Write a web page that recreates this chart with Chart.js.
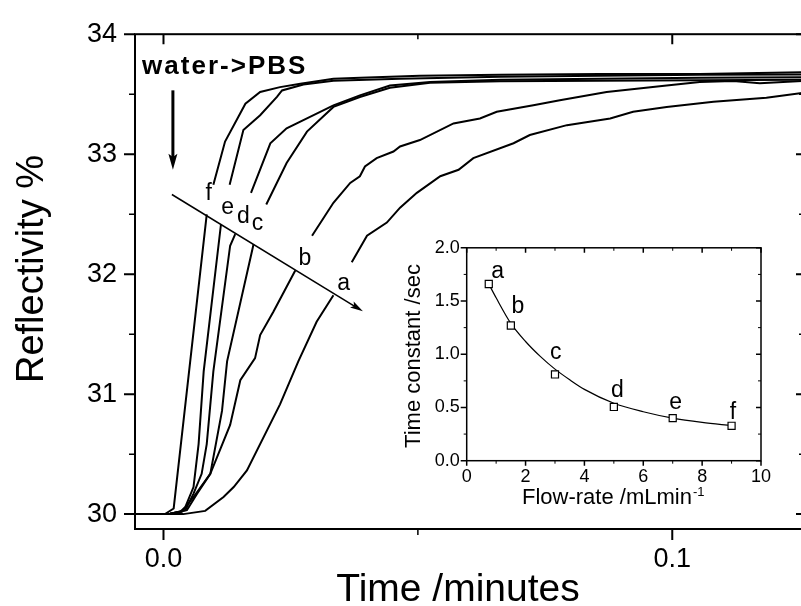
<!DOCTYPE html>
<html>
<head>
<meta charset="utf-8">
<title>Reflectivity vs time</title>
<script src="https://cdn.jsdelivr.net/npm/chart.js@4/dist/chart.umd.min.js"></script>
<style>
  html, body { margin: 0; padding: 0; background: #fff; overflow: hidden; }
  #wrap  { position: relative; width: 801px; height: 606px; overflow: hidden; }
  #main  { position: absolute; left: 0; top: 0; }
  #inset { position: absolute; left: 380px; top: 230px; }
</style>
</head>
<body>
<div id="wrap">
  <canvas id="main" width="806" height="606"></canvas>
  <canvas id="inset" width="400" height="290"></canvas>
</div>
<script>
const FONT = "'Liberation Sans', Arial, Helvetica, sans-serif";

// ─── curvas de reflectividad: [tiempo (min), R (%)] ; null = hueco junto a la etiqueta
const curveA = [
  [-0.0056, 30.0], [0.0013, 30.0], [0.0039, 30.0], [0.0082, 30.027], [0.0118, 30.143],
  [0.0138, 30.226], [0.0164, 30.364], [0.0229, 30.915], [0.0265, 31.273], [0.0301, 31.603],
  [0.0334, 31.824], [0.0350, null],
  [0.0370, 32.099], [0.0400, 32.32], [0.0439, 32.43], [0.0465, 32.554], [0.0498, 32.678],
  [0.0544, 32.816], [0.0580, 32.87], [0.0609, 32.967], [0.0688, 33.091], [0.0720, 33.16],
  [0.0793, 33.242], [0.0878, 33.298], [0.0923, 33.353], [0.0989, 33.394], [0.1081, 33.436],
  [0.1185, 33.471], [0.1255, 33.51]
];
const curveB = [
  [-0.0056, 30.0], [0.0013, 30.004], [0.0036, 30.019], [0.0059, 30.143], [0.0092, 30.336],
  [0.0131, 30.744], [0.0151, 31.116], [0.0180, 31.30], [0.0190, 31.493], [0.0216, 31.686],
  [0.0259, 32.031], [0.0275, null],
  [0.0292, 32.32], [0.0334, 32.595], [0.0367, 32.76], [0.0386, 32.816], [0.0396, 32.898],
  [0.0419, 32.967], [0.0452, 33.022], [0.0465, 33.064], [0.0504, 33.118], [0.0570, 33.256],
  [0.0622, 33.298], [0.0655, 33.353], [0.0727, 33.407], [0.0779, 33.449], [0.0871, 33.518],
  [0.0989, 33.573], [0.1054, 33.601], [0.1120, 33.609], [0.1172, 33.592], [0.1255, 33.609]
];
const curveC = [
  [-0.0056, 30.0], [0.0013, 30.004], [0.0046, 30.033], [0.0066, 30.171], [0.0092, 30.336],
  [0.0115, 30.86], [0.0125, 31.273], [0.0177, 32.25], [0.0190, null],
  [0.0202, 32.581], [0.0242, 32.926], [0.0282, 33.188], [0.0334, 33.394], [0.0386, 33.477],
  [0.0445, 33.554], [0.0524, 33.595], [0.0662, 33.607], [0.0858, 33.612], [0.1054, 33.616],
  [0.1255, 33.62]
];
const curveD = [
  [-0.0056, 30.0], [0.0013, 30.004], [0.0043, 30.033], [0.0059, 30.171], [0.0075, 30.336],
  [0.0085, 30.584], [0.0098, 31.19], [0.0131, 32.237], [0.0141, 32.333], [0.0155, null],
  [0.0172, 32.678], [0.0210, 33.091], [0.0242, 33.215], [0.0282, 33.298], [0.0334, 33.407],
  [0.0386, 33.49], [0.0445, 33.572], [0.0524, 33.601], [0.0662, 33.62], [0.0858, 33.628],
  [0.1054, 33.636], [0.1255, 33.642]
];
const curveE = [
  [-0.0056, 30.0], [0.0013, 30.004], [0.0033, 30.019], [0.0043, 30.06], [0.0059, 30.226],
  [0.0069, 30.584], [0.0079, 31.19], [0.0113, 32.416], [0.0120, null],
  [0.0130, 32.746], [0.0157, 33.201], [0.0190, 33.325], [0.0223, 33.477], [0.0233, 33.531],
  [0.0275, 33.581], [0.0334, 33.612], [0.0465, 33.628], [0.0662, 33.645], [0.0858, 33.653],
  [0.1054, 33.661], [0.1255, 33.664]
];
const curveF = [
  [-0.0056, 30.0], [0.0003, 30.0], [0.0020, 30.047], [0.0085, 32.498], [0.0090, null],
  [0.0098, 32.746], [0.0121, 33.105], [0.0161, 33.421], [0.0190, 33.518], [0.0229, 33.559],
  [0.0269, 33.587], [0.0334, 33.628], [0.0387, 33.636], [0.0504, 33.653], [0.0662, 33.661],
  [0.0858, 33.669], [0.1054, 33.669], [0.1255, 33.683]
];
const curves      = [curveA, curveB, curveC, curveD, curveE, curveF];
const curveLabels = ['a', 'b', 'c', 'd', 'e', 'f'];
const labelT      = [0.0354, 0.0278, 0.0185, 0.0157, 0.0126, 0.0089];
const labelR      = [31.868, 32.074, 32.364, 32.43, 32.504, 32.622];

// ejes principales
const xTicks = [0, 0.1];
const xMinor = [0.05];
const yTicks = [30, 31, 32, 33, 34];
const yMinor = [30.5, 31.5, 32.5, 33.5];

// flechas y texto (en unidades de datos)
const injectArrow = [[0.00185, 33.532], [0.00185, 32.87]];
const trendArrow  = [[0.00165, 32.664], [0.0392, 31.69]];
const injectText  = 'water->PBS';
const injectPos   = [-0.0042, 33.669];

// ─── inserto: constante de tiempo vs caudal
const flowRate  = [0.75, 1.5, 3, 5, 7, 9];
const timeConst = [1.66, 1.27, 0.81, 0.505, 0.40, 0.328];
const fitFlow   = [0.75, 1, 1.5, 2, 2.5, 3, 3.5, 4, 5, 6, 7, 8, 9];
const fitTime   = [1.66, 1.53, 1.29, 1.12, 0.98, 0.86, 0.76, 0.67, 0.54, 0.46, 0.40, 0.36, 0.33];
const insetXTicks = [0, 2, 4, 6, 8, 10];
const insetXMinor = [1, 3, 5, 7, 9];
const insetYTicks = [0, 0.5, 1, 1.5, 2];
const insetYMinor = [0.25, 0.75, 1.25, 1.75];
const insetLabelFlow = [1.05, 1.74, 3.03, 5.12, 7.1, 9.05];
const insetLabelTime = [1.719, 1.383, 0.954, 0.603, 0.481, 0.389];

// ─── helpers de dibujo
function xTickMarks(ctx, a, scale, values, bottomLen, topLen) {
  ctx.beginPath();
  values.forEach(v => {
    const px = scale.getPixelForValue(v);
    ctx.moveTo(px, a.bottom); ctx.lineTo(px, a.bottom + bottomLen);
    ctx.moveTo(px, a.top);    ctx.lineTo(px, a.top + topLen);
  });
  ctx.stroke();
}

function yTickMarks(ctx, a, scale, values, leftLen, rightLen) {
  ctx.beginPath();
  values.forEach(v => {
    const py = scale.getPixelForValue(v);
    ctx.moveTo(a.left - leftLen, py);  ctx.lineTo(a.left, py);
    ctx.moveTo(a.right - rightLen, py); ctx.lineTo(a.right, py);
  });
  ctx.stroke();
}

function drawArrow(ctx, x1, y1, x2, y2, lw, headLen, headHalf) {
  const ang = Math.atan2(y2 - y1, x2 - x1);
  ctx.save();
  ctx.lineWidth = lw;
  ctx.beginPath();
  ctx.moveTo(x1, y1);
  ctx.lineTo(x2 - Math.cos(ang) * headLen * 0.7, y2 - Math.sin(ang) * headLen * 0.7);
  ctx.stroke();
  ctx.translate(x2, y2);
  ctx.rotate(ang);
  ctx.beginPath();
  ctx.moveTo(0, 0);
  ctx.lineTo(-headLen, -headHalf);
  ctx.lineTo(-headLen * 0.8, 0);
  ctx.lineTo(-headLen, headHalf);
  ctx.closePath();
  ctx.fill();
  ctx.restore();
}

function rotatedText(ctx, text, x, y, font) {
  ctx.save();
  ctx.translate(x, y);
  ctx.rotate(-Math.PI / 2);
  ctx.font = font;
  ctx.textAlign = 'center';
  ctx.textBaseline = 'alphabetic';
  ctx.fillText(text, 0, 0);
  ctx.restore();
}

// ─── gráfico principal
const mainDecor = {
  id: 'mainDecor',
  afterDraw(chart) {
    const { ctx, chartArea: a, scales: { x, y } } = chart;
    ctx.save();
    ctx.strokeStyle = '#000';
    ctx.fillStyle = '#000';

    ctx.lineWidth = 2;
    ctx.strokeRect(a.left, a.top, a.right - a.left, a.bottom - a.top);
    xTickMarks(ctx, a, x, xTicks, 11, 10);
    yTickMarks(ctx, a, y, yTicks, 11, 6);
    ctx.lineWidth = 1.5;
    xTickMarks(ctx, a, x, xMinor, 6, 5);
    yTickMarks(ctx, a, y, yMinor, 6, 3);

    // flechas
    drawArrow(ctx,
      x.getPixelForValue(injectArrow[0][0]), y.getPixelForValue(injectArrow[0][1]),
      x.getPixelForValue(injectArrow[1][0]), y.getPixelForValue(injectArrow[1][1]),
      3, 16, 4.5);
    drawArrow(ctx,
      x.getPixelForValue(trendArrow[0][0]), y.getPixelForValue(trendArrow[0][1]),
      x.getPixelForValue(trendArrow[1][0]), y.getPixelForValue(trendArrow[1][1]),
      1.5, 13, 3.5);

    // etiquetas de curvas
    ctx.font = '23px ' + FONT;
    ctx.textAlign = 'center';
    ctx.textBaseline = 'alphabetic';
    curveLabels.forEach((lab, i) => {
      ctx.fillText(lab, x.getPixelForValue(labelT[i]), y.getPixelForValue(labelR[i]));
    });

    ctx.font = 'bold 26px ' + FONT;
    ctx.textAlign = 'left';
    try { ctx.letterSpacing = '2px'; } catch (e) {}
    ctx.fillText(injectText, x.getPixelForValue(injectPos[0]), y.getPixelForValue(injectPos[1]));
    try { ctx.letterSpacing = '0px'; } catch (e) {}

    // títulos de ejes
    rotatedText(ctx, 'Reflectivity %', 43, 269, '38px ' + FONT);
    ctx.font = '39px ' + FONT;
    ctx.textAlign = 'center';
    ctx.fillText('Time /minutes', 458, 601);
    ctx.restore();
  }
};

new Chart(document.getElementById('main'), {
  type: 'scatter',
  data: {
    datasets: curves.map((c, i) => ({
      label: curveLabels[i],
      data: c,
      showLine: true,
      spanGaps: false,
      borderColor: '#000',
      borderWidth: 2,
      pointRadius: 0,
      tension: 0
    }))
  },
  options: {
    responsive: false,
    animation: false,
    events: [],
    layout: { padding: { top: 30, right: 4, left: 0, bottom: 0 } },
    plugins: { legend: { display: false }, tooltip: { enabled: false } },
    scales: {
      x: {
        type: 'linear', min: -0.0056, max: 0.1255,
        grid: { display: false, drawTicks: false },
        border: { display: false },
        afterBuildTicks: s => { s.ticks = xTicks.map(v => ({ value: v })); },
        afterFit: s => { s.height = 77; },
        ticks: {
          padding: 14, color: '#000', maxRotation: 0,
          font: { family: FONT, size: 27 },
          callback: v => Number(v).toFixed(1)
        }
      },
      y: {
        type: 'linear', min: 29.876, max: 34,
        grid: { display: false, drawTicks: false },
        border: { display: false },
        afterBuildTicks: s => { s.ticks = yTicks.map(v => ({ value: v })); },
        afterFit: s => { s.width = 135; },
        ticks: {
          padding: 18, color: '#000',
          font: { family: FONT, size: 27 },
          callback: v => String(v)
        }
      }
    }
  },
  plugins: [mainDecor]
});

// ─── inserto
const insetDecor = {
  id: 'insetDecor',
  afterDraw(chart) {
    const { ctx, chartArea: a, scales: { x, y } } = chart;
    ctx.save();
    ctx.strokeStyle = '#000';
    ctx.fillStyle = '#000';
    ctx.lineWidth = 1.5;
    ctx.strokeRect(a.left, a.top, a.right - a.left, a.bottom - a.top);
    xTickMarks(ctx, a, x, insetXTicks, 5, 5);
    yTickMarks(ctx, a, y, insetYTicks, 6, 5);
    ctx.lineWidth = 1;
    xTickMarks(ctx, a, x, insetXMinor, 3, 3);
    yTickMarks(ctx, a, y, insetYMinor, 3, 3);

    ctx.font = '23px ' + FONT;
    ctx.textAlign = 'center';
    ctx.textBaseline = 'alphabetic';
    curveLabels.forEach((lab, i) => {
      ctx.fillText(lab, x.getPixelForValue(insetLabelFlow[i]), y.getPixelForValue(insetLabelTime[i]));
    });

    rotatedText(ctx, 'Time constant /sec', 40, 126, '22px ' + FONT);
    ctx.font = '22px ' + FONT;
    ctx.textAlign = 'left';
    const xt = 'Flow-rate /mLmin';
    ctx.fillText(xt, 142, 274);
    const w = ctx.measureText(xt).width;
    ctx.font = '13px ' + FONT;
    ctx.fillText('-1', 142 + w + 1, 266);
    ctx.restore();
  }
};

new Chart(document.getElementById('inset'), {
  type: 'scatter',
  data: {
    datasets: [
      {
        label: 'Time constant',
        data: flowRate.map((f, i) => ({ x: f, y: timeConst[i] })),
        pointStyle: 'rect',
        pointRadius: 5,
        pointBackgroundColor: '#fff',
        pointBorderColor: '#000',
        pointBorderWidth: 1.2,
        showLine: false
      },
      {
        label: 'Fit',
        data: fitFlow.map((f, i) => ({ x: f, y: fitTime[i] })),
        showLine: true,
        borderColor: '#000',
        borderWidth: 1.2,
        pointRadius: 0,
        cubicInterpolationMode: 'monotone'
      }
    ]
  },
  options: {
    responsive: false,
    animation: false,
    events: [],
    layout: { padding: { top: 12.7, right: 19, left: 0, bottom: 0 } },
    plugins: { legend: { display: false }, tooltip: { enabled: false } },
    scales: {
      x: {
        type: 'linear', min: 0, max: 10,
        grid: { display: false, drawTicks: false },
        border: { display: false },
        afterBuildTicks: s => { s.ticks = insetXTicks.map(v => ({ value: v })); },
        afterFit: s => { s.height = 59.3; },
        ticks: {
          padding: 6, color: '#000', maxRotation: 0,
          font: { family: FONT, size: 18 },
          callback: v => String(v)
        }
      },
      y: {
        type: 'linear', min: 0, max: 2,
        grid: { display: false, drawTicks: false },
        border: { display: false },
        afterBuildTicks: s => { s.ticks = insetYTicks.map(v => ({ value: v })); },
        afterFit: s => { s.width = 86.7; },
        ticks: {
          padding: 7, color: '#000',
          font: { family: FONT, size: 18 },
          callback: v => Number(v).toFixed(1)
        }
      }
    }
  },
  plugins: [insetDecor]
});
</script>
</body>
</html>
